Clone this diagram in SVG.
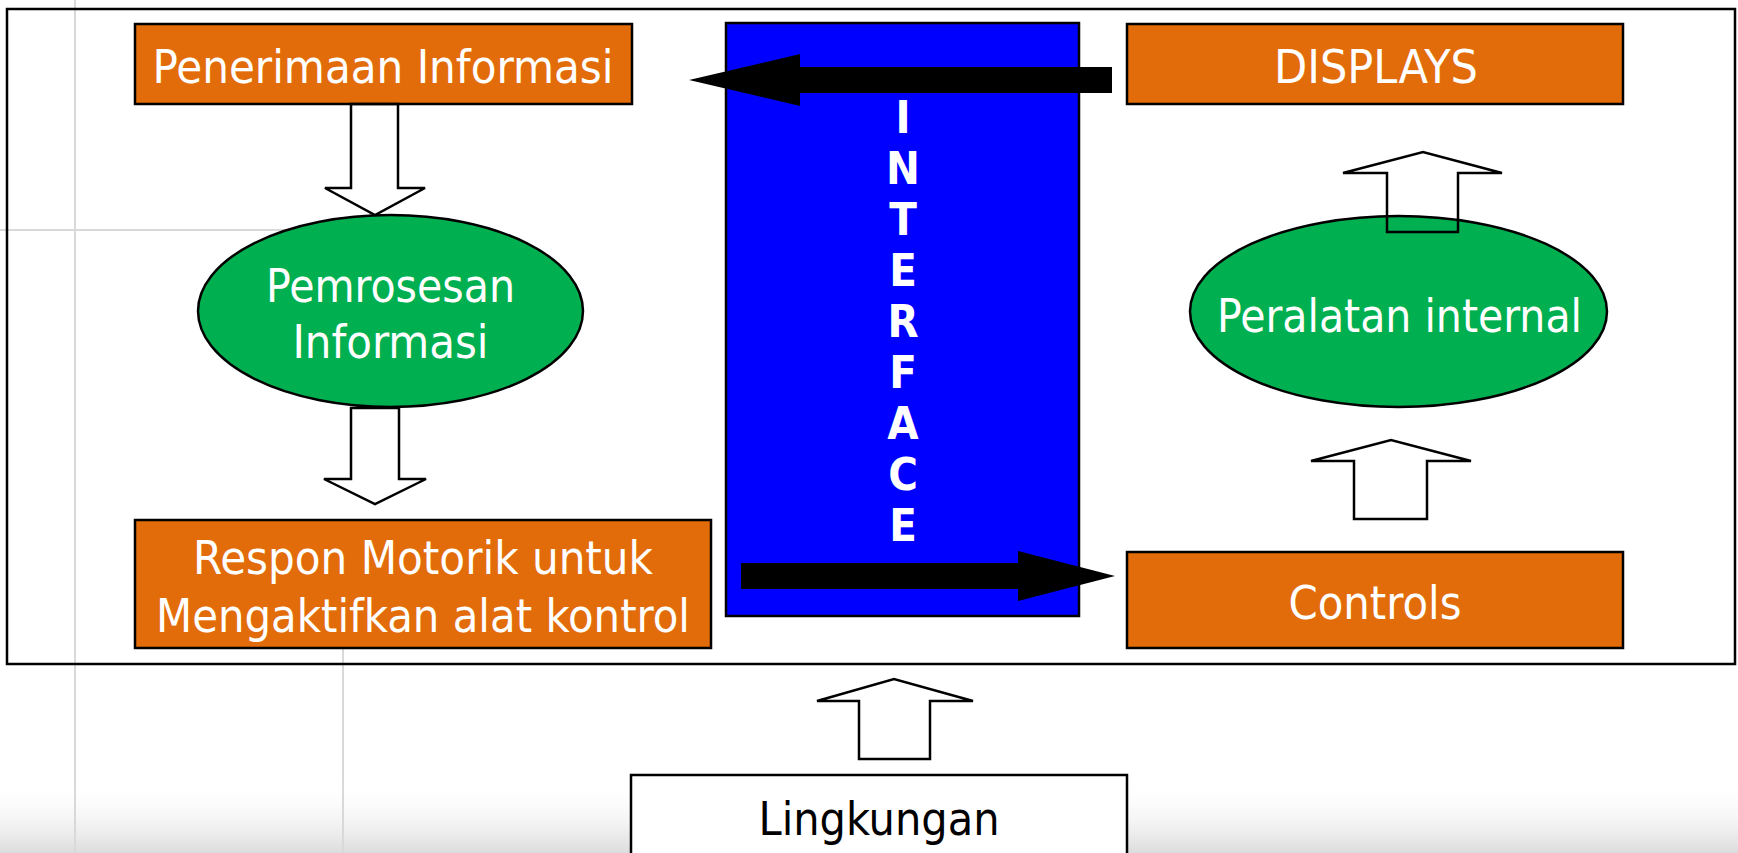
<svg xmlns="http://www.w3.org/2000/svg" width="1738" height="853" viewBox="0 0 1738 853">
<style>
.bg{stroke:#d9d9d9;stroke-width:2;fill:none}
.box{fill:#E36C0A;stroke:#000;stroke-width:2.5}
.ell{fill:#00B050;stroke:#000;stroke-width:2.5}
.lbl{font-family:"DejaVu Sans Condensed","DejaVu Sans","Liberation Sans",sans-serif;font-stretch:condensed;font-size:47px;fill:#fff;text-anchor:middle}
.dark{fill:#000}
.iface{font-family:"DejaVu Sans Condensed","DejaVu Sans","Liberation Sans",sans-serif;font-stretch:condensed;font-size:45px;font-weight:bold;fill:#fff;text-anchor:middle}
.hollow{fill:none;stroke:#000;stroke-width:2.5;stroke-linejoin:miter}
.solid{fill:#000;stroke:none}
</style>
<defs>
<linearGradient id="floor" x1="0" y1="0" x2="0" y2="1">
<stop offset="0" stop-color="#ffffff" stop-opacity="0"/>
<stop offset="1" stop-color="#dcdcdc" stop-opacity="1"/>
</linearGradient>
</defs>
<rect x="0" y="0" width="1738" height="853" fill="#fff"/>
<rect x="0" y="780" width="1738" height="73" fill="url(#floor)"/>
<g id="background-lines">
<line class="bg" x1="75" y1="0" x2="75" y2="853"/>
<line class="bg" x1="0" y1="230" x2="300" y2="230"/>
<line class="bg" x1="343" y1="519" x2="343" y2="853"/>
</g>
<g id="frame">
<rect x="7" y="9" width="1728" height="655" fill="none" stroke="#000" stroke-width="2.5"/>
</g>
<g id="penerimaan">
<rect class="box" x="135" y="24" width="497" height="80"/>
<text class="lbl" x="383" y="83" textLength="461" lengthAdjust="spacingAndGlyphs">Penerimaan Informasi</text>
</g>
<g id="interface">
<rect x="726" y="23" width="353" height="593" fill="#0000FF" stroke="#000" stroke-width="2.5"/>
<text class="iface" x="903" y="133">I</text>
<text class="iface" x="903" y="184">N</text>
<text class="iface" x="903" y="235">T</text>
<text class="iface" x="903" y="286">E</text>
<text class="iface" x="903" y="337">R</text>
<text class="iface" x="903" y="388">F</text>
<text class="iface" x="903" y="439">A</text>
<text class="iface" x="903" y="490">C</text>
<text class="iface" x="903" y="541">E</text>
</g>
<g id="displays">
<rect class="box" x="1127" y="24" width="496" height="80"/>
<text class="lbl" x="1376" y="83" textLength="204" lengthAdjust="spacingAndGlyphs">DISPLAYS</text>
</g>
<g id="pemrosesan">
<ellipse class="ell" cx="390.5" cy="311" rx="192.5" ry="96"/>
<text class="lbl" x="390.5" y="302" textLength="249" lengthAdjust="spacingAndGlyphs">Pemrosesan</text>
<text class="lbl" x="390.5" y="358" textLength="196" lengthAdjust="spacingAndGlyphs">Informasi</text>
</g>
<g id="peralatan">
<ellipse class="ell" cx="1398.5" cy="311.5" rx="208.5" ry="95.5"/>
<text class="lbl" x="1399.5" y="332" textLength="365" lengthAdjust="spacingAndGlyphs">Peralatan internal</text>
</g>
<g id="respon">
<rect class="box" x="135" y="520" width="576" height="128"/>
<text class="lbl" x="423" y="574" textLength="460" lengthAdjust="spacingAndGlyphs">Respon Motorik untuk</text>
<text class="lbl" x="423" y="632" textLength="534" lengthAdjust="spacingAndGlyphs">Mengaktifkan alat kontrol</text>
</g>
<g id="controls">
<rect class="box" x="1127" y="552" width="496" height="96"/>
<text class="lbl" x="1375" y="619" textLength="173" lengthAdjust="spacingAndGlyphs">Controls</text>
</g>
<g id="lingkungan">
<rect x="631" y="775" width="496" height="90" fill="#fff" stroke="#000" stroke-width="2.5"/>
<text class="lbl dark" x="879" y="835" textLength="241" lengthAdjust="spacingAndGlyphs">Lingkungan</text>
</g>
<g id="connectors">
<polygon class="hollow" points="351,104 398,104 398,188 425,188 375,215 325,188 351,188"/>
<polygon class="hollow" points="351,408 399,408 399,479 426,479 375,504 324,479 351,479"/>
<polygon class="hollow" points="1387,232 1458,232 1458,173 1502,173 1423,152 1343,173 1387,173"/>
<polygon class="hollow" points="1354,519 1427,519 1427,461 1471,461 1391,440 1311,461 1354,461"/>
<polygon class="hollow" points="859,759 930,759 930,701 973,701 894,679 817,701 859,701"/>
<polygon class="solid" points="1112,67 800,67 800,54 689,80 800,106 800,93 1112,93"/>
<polygon class="solid" points="741,563 1018,563 1018,551 1115,576 1018,601 1018,589 741,589"/>
</g>
</svg>
